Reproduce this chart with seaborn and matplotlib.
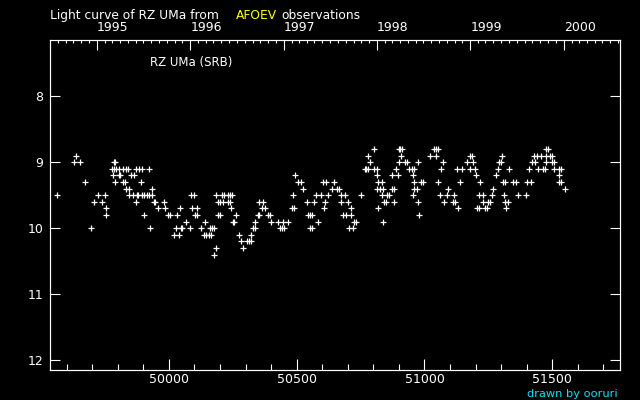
import matplotlib
matplotlib.use("Agg")
import matplotlib.pyplot as plt
from matplotlib.ticker import MultipleLocator, FixedLocator, FormatStrFormatter
import pandas as pd
import seaborn as sns

# JD - 2400000 of each estimate, grouped by visual magnitude (0.1 mag steps)
jd_88 = [50804, 50899, 50905, 50911, 51037, 51046, 51054, 51477, 51483]
jd_89 = [49638, 50780, 50909, 51023, 51046, 51180, 51186, 51304, 51427, 51441, 51457,
         51474, 51493, 51499]
jd_90 = [49627, 49654, 49784, 49788, 50788, 50900, 50925, 50933, 50976, 51074, 51165,
         51190, 51293, 51300, 51422, 51431, 51476, 51500, 51508]
jd_91 = [49777, 49786, 49795, 49804, 49822, 49831, 49840, 49871, 49885, 49894, 49924,
         50766, 50772, 50778, 50804, 50813, 50890, 50941, 50950, 50959, 51066, 51128,
         51148, 51179, 51198, 51289, 51332, 51410, 51445, 51462, 51471, 51508, 51526, 51535]
jd_92 = [49783, 49804, 49808, 49853, 49863, 50495, 50815, 50874, 50898, 50956, 51203,
         51281, 51527]
jd_93 = [49670, 49791, 49820, 49829, 49892, 50507, 50517, 50604, 50614, 50647, 50819,
         50835, 50960, 50988, 50995, 51054, 51140, 51218, 51308, 51316, 51345, 51359,
         51402, 51418, 51527, 51533]
jd_94 = [49834, 49843, 49935, 50526, 50639, 50659, 50667, 50815, 50828, 50836, 50872,
         50881, 50960, 50972, 51093, 51269, 51551]
jd_95 = [49564, 49724, 49752, 49843, 49861, 49874, 49880, 49894, 49903, 49914, 49924,
         49934, 50086, 50100, 50183, 50208, 50214, 50230, 50239, 50248, 50487, 50577,
         50596, 50624, 50675, 50690, 50753, 50832, 50852, 50862, 50956, 51062, 51089,
         51117, 51214, 51230, 51265, 51312, 51367, 51398]
jd_96 = [49709, 49740, 49873, 49943, 49947, 49982, 50192, 50201, 50211, 50230, 50239,
         50354, 50370, 50542, 50569, 50612, 50675, 50702, 50843, 50851, 50882, 50976,
         51078, 51113, 51121, 51230, 51250, 51257, 51316, 51328]
jd_97 = [49756, 49959, 49986, 50045, 50092, 50111, 50245, 50364, 50377, 50482, 50488,
         50608, 50714, 50819, 51132, 51206, 51214, 51238, 51246, 51318]
jd_98 = [49756, 49904, 49997, 50006, 50033, 50101, 50109, 50191, 50200, 50262, 50347,
         50353, 50389, 50397, 50546, 50553, 50561, 50682, 50693, 50712, 50980]
jd_99 = [50068, 50143, 50250, 50254, 50338, 50401, 50428, 50448, 50467, 50585, 50725,
         50733, 50839]
jd_100 = [49697, 49928, 50029, 50048, 50052, 50084, 50127, 50161, 50170, 50178, 50330,
          50338, 50434, 50444, 50452, 50553, 50561, 50706, 50722]
jd_101 = [50022, 50041, 50138, 50147, 50156, 50165, 50276, 50323]
jd_102 = [50284, 50307, 50315, 50323]
jd_103 = [50186, 50291]
jd_104 = [50178]

mag_levels = [8.8, 8.9, 9.0, 9.1, 9.2, 9.3, 9.4, 9.5, 9.6, 9.7, 9.8, 9.9, 10.0, 10.1,
              10.2, 10.3, 10.4]
jd_groups = [jd_88, jd_89, jd_90, jd_91, jd_92, jd_93, jd_94, jd_95, jd_96, jd_97,
             jd_98, jd_99, jd_100, jd_101, jd_102, jd_103, jd_104]

years = ['1995', '1996', '1997', '1998', '1999', '2000']

rows = [(d, m) for m, g in zip(mag_levels, jd_groups) for d in g]
df = pd.DataFrame(rows, columns=['jd', 'mag'])

sns.set_theme(style='ticks', rc={
    'figure.facecolor': 'black', 'axes.facecolor': 'black',
    'axes.edgecolor': 'white', 'axes.linewidth': 0.8,
    'text.color': 'white', 'xtick.color': 'white', 'ytick.color': 'white',
})
plt.rcParams['font.family'] = ['DejaVu Sans']

fig = plt.figure(figsize=(6.4, 4.0), dpi=100)
ax = fig.add_axes([50 / 640, 30 / 400, 570 / 640, 330 / 400])

sns.scatterplot(data=df, x='jd', y='mag', marker='+', color='white', s=14,
                linewidth=0.9, ax=ax, legend=False)

ax.set_xlim(49535, 51765)
ax.set_ylim(12.147, 7.147)
ax.set_xlabel('')
ax.set_ylabel('')

ax.xaxis.set_major_locator(MultipleLocator(500))
ax.xaxis.set_minor_locator(MultipleLocator(100))
ax.xaxis.set_major_formatter(FormatStrFormatter('%d'))
ax.yaxis.set_major_locator(MultipleLocator(1))
ax.tick_params(axis='x', which='major', direction='in', length=8, width=0.8,
               labelsize=9, pad=2.5, top=False)
ax.tick_params(axis='x', which='minor', direction='in', length=4, width=0.8, top=False)
ax.tick_params(axis='y', which='major', direction='in', length=7.5, width=0.8,
               labelsize=9, pad=5, left=True, right=True, labelright=False)
for s in ax.spines.values():
    s.set_color('white')
    s.set_visible(True)

# calendar axis on top
ax2 = ax.twiny()
ax2.set_xlim(ax.get_xlim())
year_jd = [pd.Timestamp(y + '-01-01').to_julian_date() - 2400000 for y in years]
month_jd = pd.date_range('1994-07-01', '2000-08-01', freq='MS').to_julian_date() - 2400000
ax2.xaxis.set_major_locator(FixedLocator(year_jd))
ax2.xaxis.set_minor_locator(FixedLocator(list(month_jd)))
ax2.set_xticklabels(years, ha='left')
ax2.tick_params(axis='x', which='major', direction='in', length=7.5, width=0.8,
                labelsize=9, pad=4, colors='white')
ax2.tick_params(axis='x', which='minor', direction='in', length=2.5, width=0.8,
                colors='white')
for s in ax2.spines.values():
    s.set_color('white')

ax.text((150 - 50) / 570, (370 - 62) / 330, 'RZ UMa (SRB)', transform=ax.transAxes,
        color='white', fontsize=8.5, va='center', ha='left')

fig.text(50 / 640, 1 - 19 / 400, 'Light curve of RZ UMa from', color='white',
         fontsize=8.8, va='baseline', ha='left')
fig.text(236 / 640, 1 - 19 / 400, 'AFOEV', color='#ffff00', fontsize=8.8,
         va='baseline', ha='left')
fig.text(281 / 640, 1 - 19 / 400, 'observations', color='white', fontsize=8.8,
         va='baseline', ha='left')
fig.text(618 / 640, 1 - 399 / 400, 'drawn by ooruri', color='#10e0f0', fontsize=8.2,
         va='bottom', ha='right')

fig.savefig('out.png', dpi=100, facecolor='black')
